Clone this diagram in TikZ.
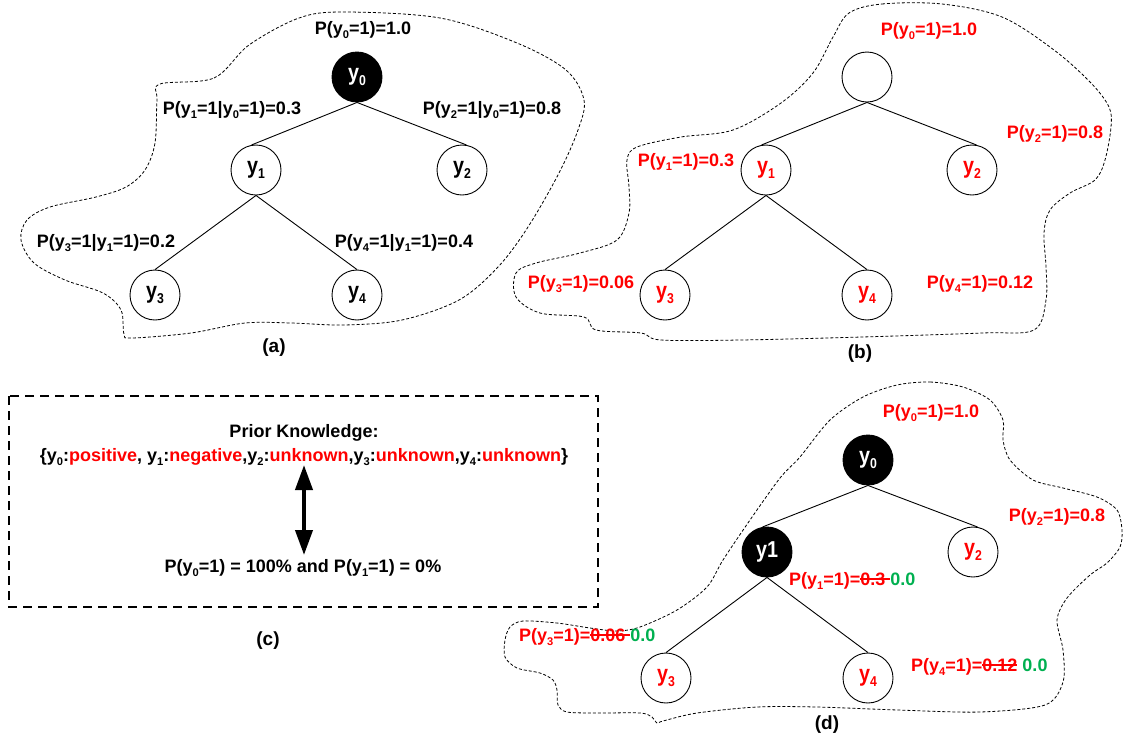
\documentclass[tikz,border=0pt]{standalone}
\usepackage{fontspec}
\setmainfont{Liberation Sans}
\newfontfamily\vtxfont[FakeStretch=0.86]{Liberation Sans}
\usetikzlibrary{arrows.meta}
\definecolor{pgreen}{RGB}{0,176,80}
% small lowered index digit
\newcommand\sbs[1]{\raisebox{-0.22em}{\scalebox{0.62}{#1}}}
% struck-out value: #1 text, #2 extra length of the stroke
\newcommand\strk[2]{\setbox0\hbox{#1}\rlap{\rule[0.32em]{\dimexpr\wd0+#2\relax}{1.3pt}}\box0}

\tikzset{
  vtx/.style={circle, draw, line width=0.9pt, minimum size=50pt, inner sep=0pt,
    font=\vtxfont\fontsize{23}{26}\selectfont\bfseries},
  obs/.style={vtx, fill=black, text=white},
  hvtx/.style={vtx, text=red},
  lbl/.style={font=\fontsize{18}{20}\selectfont\bfseries, inner sep=0pt},
  hot/.style={lbl, text=red},
  edge/.style={line width=0.9pt},
  blob/.style={dash pattern=on 3pt off 2pt, line width=0.8pt},
  frame/.style={dash pattern=on 9pt off 6pt, line width=1.3pt},
  subcap/.style={font=\fontsize{19}{21}\selectfont\bfseries, inner sep=0pt},
}

\begin{document}
\begin{tikzpicture}[x=1pt, y=-1pt]
\useasboundingbox (0,0) rectangle (1130,740);

% ---------------- (a) conditional probabilities ----------------
\draw[blob] plot[smooth cycle, tension=0.55] coordinates {
  (160,84) (214,78) (249,45) (299,18) (344,12) (440,18) (517,43) (566,70)
  (584,100) (578,130) (559,173) (528,227) (498,267) (459,300) (402,320)
  (344,325) (291,323) (245,323) (191,333) (132,338) (124,334) (121,310)
  (103,293) (65,280) (34,263) (21,240) (27,220) (50,207) (96,197) (126,187)
  (145,170) (155,143) (157,100)};

\node[obs] (a0) at (357,77) {y\sbs{0}};
\node[vtx] (a1) at (256,170) {y\sbs{1}};
\node[vtx] (a2) at (462,170) {y\sbs{2}};
\node[vtx] (a3) at (155,295) {y\sbs{3}};
\node[vtx] (a4) at (357,295) {y\sbs{4}};
\draw[edge] (a0.south) -- (a1.100);
\draw[edge] (a0.south) -- (a2.80);
\draw[edge] (a1.south) -- (a3.north);
\draw[edge] (a1.south) -- (a4.north);

\node[lbl] (la0) at (363,30) {P(y\sbs{0}=1)=1.0};
\node[lbl] (la1) at (232,110) {P(y\sbs{1}=1|y\sbs{0}=1)=0.3};
\node[lbl] (la2) at (492,110) {P(y\sbs{2}=1|y\sbs{0}=1)=0.8};
\node[lbl] (la3) at (106,243) {P(y\sbs{3}=1|y\sbs{1}=1)=0.2};
\node[lbl] (la4) at (404,243) {P(y\sbs{4}=1|y\sbs{1}=1)=0.4};
\node[subcap] (capa) at (274,348) {(a)};

% ---------------- (b) marginal probabilities ----------------
\draw[blob] plot[smooth cycle, tension=0.55] coordinates {
  (849,13) (882,4) (942,4) (1002,17) (1054,50) (1091,83) (1109,107) (1111,127)
  (1105,160) (1095,180) (1070,193) (1050,210) (1044,233) (1046,267) (1046,300)
  (1034,330) (982,333) (862,337) (741,340) (661,340) (641,333) (596,330)
  (584,317) (540,313) (516,297) (516,273) (536,263) (580,253) (617,240)
  (629,213) (629,187) (627,160) (637,147) (681,137) (733,130) (781,103)
  (813,73) (833,37)};

\node[vtx] (b0) at (867,77) {};
\node[hvtx] (b1) at (766,170) {y\sbs{1}};
\node[hvtx] (b2) at (972,170) {y\sbs{2}};
\node[hvtx] (b3) at (665,295) {y\sbs{3}};
\node[hvtx] (b4) at (867,295) {y\sbs{4}};
\draw[edge] (b0.south) -- (b1.100);
\draw[edge] (b0.south) -- (b2.80);
\draw[edge] (b1.south) -- (b3.north);
\draw[edge] (b1.south) -- (b4.north);

\node[hot] (lb0) at (929,31) {P(y\sbs{0}=1)=1.0};
\node[hot] (lb1) at (686,162) {P(y\sbs{1}=1)=0.3};
\node[hot] (lb2) at (1055,134) {P(y\sbs{2}=1)=0.8};
\node[hot] (lb3) at (581,284) {P(y\sbs{3}=1)=0.06};
\node[hot] (lb4) at (980,284) {P(y\sbs{4}=1)=0.12};
\node[subcap] (capb) at (860,354) {(b)};

% ---------------- (c) prior knowledge ----------------
\draw[frame] (9,396) rectangle (598,607);
\node[lbl] (pk) at (304,433) {Prior Knowledge:};
\node[lbl] (pkset) at (304,457) {\{y\sbs{0}:\textcolor{red}{positive}, y\sbs{1}:\textcolor{red}{negative},y\sbs{2}:\textcolor{red}{unknown},y\sbs{3}:\textcolor{red}{unknown},y\sbs{4}:\textcolor{red}{unknown}\}};
\node[lbl] (pr) at (303,568) {P(y\sbs{0}=1) = 100\% and P(y\sbs{1}=1) = 0\%};
\coordinate (arT) at (304,465);
\coordinate (arB) at (304,555);
\draw[line width=4pt, {Triangle[length=25pt,width=17pt]}-{Triangle[length=25pt,width=17pt]}] (arT) -- (arB);
\node[subcap] (capc) at (268,641) {(c)};

% ---------------- (d) updated probabilities ----------------
\draw[blob] plot[smooth cycle, tension=0.5] coordinates {
  (897,385) (930,382) (963,387) (990,400) (1003,420) (1003,440) (1010,460)
  (1033,480) (1063,488) (1097,497) (1117,510) (1122,530) (1120,547) (1107,563)
  (1090,575) (1067,598) (1057,620) (1063,650) (1063,682) (1045,705) (980,712)
  (898,710) (817,707) (757,707) (697,713) (663,721) (657,723) (652,717)
  (640,713) (597,713) (567,712) (558,705) (557,690) (553,680) (540,673)
  (517,668) (505,657) (505,640) (510,627) (523,621) (557,623) (590,628)
  (617,631) (640,627) (677,610) (707,587) (723,560) (750,520) (780,478)
  (800,457) (830,420) (863,397)};

\node[obs] (d0) at (868,460) {y\sbs{0}};
\node[obs] (d1) at (767,552) {y1};
\node[hvtx] (d2) at (973,552) {y\sbs{2}};
\node[hvtx] (d3) at (666,678) {y\sbs{3}};
\node[hvtx] (d4) at (868,678) {y\sbs{4}};
\draw[edge] (d0.south) -- (d1.100);
\draw[edge] (d0.south) -- (d2.80);
\draw[edge] (d1.south) -- (d3.north);
\draw[edge] (d1.south) -- (d4.north);

\node[hot] (ld0) at (931,413) {P(y\sbs{0}=1)=1.0};
\node[hot] (ld2) at (1057,517) {P(y\sbs{2}=1)=0.8};
\node[hot, anchor=west] (ld1) at (789,581) {P(y\sbs{1}=1)=\strk{0.3\ }{0pt}\textcolor{pgreen}{0.0}};
\node[hot, anchor=west] (ld3) at (519,637) {P(y\sbs{3}=1)=\strk{0.06\ }{0pt}\textcolor{pgreen}{0.0}};
\node[hot, anchor=west] (ld4) at (911,667) {P(y\sbs{4}=1)=\strk{0.12}{0pt}\ \textcolor{pgreen}{0.0}};
\node[subcap] (capd) at (827,725) {(d)};
\end{tikzpicture}
\end{document}
